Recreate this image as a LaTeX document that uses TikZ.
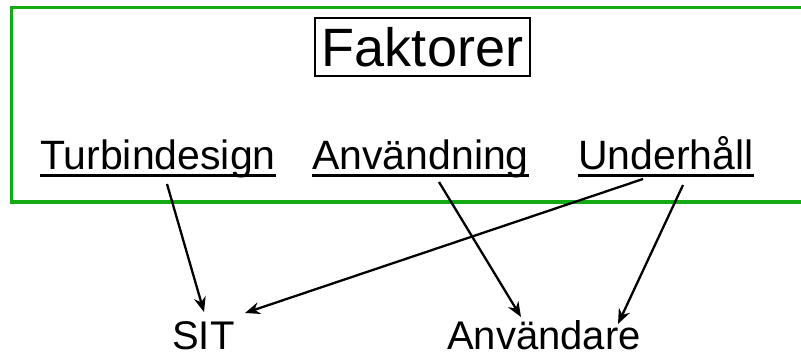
\documentclass[tikz,border=0pt]{standalone}
\usepackage{fontspec}
\setmainfont{Liberation Sans}
\usetikzlibrary{arrows.meta,calc}
\begin{document}
\begin{tikzpicture}[x=1pt,y=-1pt,
  lbl/.style={anchor=base west,inner sep=0pt,font=\fontsize{41}{41}\selectfont},
  uline/.style={line width=2.1pt},
  conn/.style={line width=2.3pt,-{Stealth[length=15pt,width=12pt]}},
  frame/.style={draw={rgb,255:red,20;green,170;blue,20},line width=3.4pt}]
\useasboundingbox (0,0) rectangle (801,358);
% green frame, open on the right
\draw[frame] (801,7.5) -- (11.5,7.5) -- (11.5,202) -- (801,202);
% title box
\node[draw,line width=2pt,minimum width=215pt,minimum height=58pt,inner sep=0pt,
      font=\fontsize{54}{54}\selectfont] (fak) at (422.5,47) {Faktorer};
% factor labels
\node[lbl] (turb) at (40,170) {Turbindesign};
\node[lbl] (anv)  at (312,170) {Användning};
\node[lbl] (und)  at (578,170) {Underhåll};
\foreach \n in {turb,anv,und}
  \draw[uline] ($(\n.base west)+(0,5.5)$) -- ($(\n.base east)+(0,5.5)$);
% outcomes
\node[lbl,font=\fontsize{40}{40}\selectfont] (sit)  at (172,349) {SIT};
\node[lbl,font=\fontsize{40}{40}\selectfont] (anvr) at (447,349) {Användare};
% connectors
\draw[conn] ($(turb.base west)+(127,14)$) -- ($(sit.base west)+(32,-37)$);
\draw[conn] ($(und.base west)+(65,9)$)   -- ($(sit.base west)+(73,-36)$);
\draw[conn] ($(anv.base west)+(127,12)$) -- ($(anvr.base west)+(74,-32)$);
\draw[conn] ($(und.base west)+(105,15)$) -- ($(anvr.base west)+(171,-25)$);
\end{tikzpicture}
\end{document}
